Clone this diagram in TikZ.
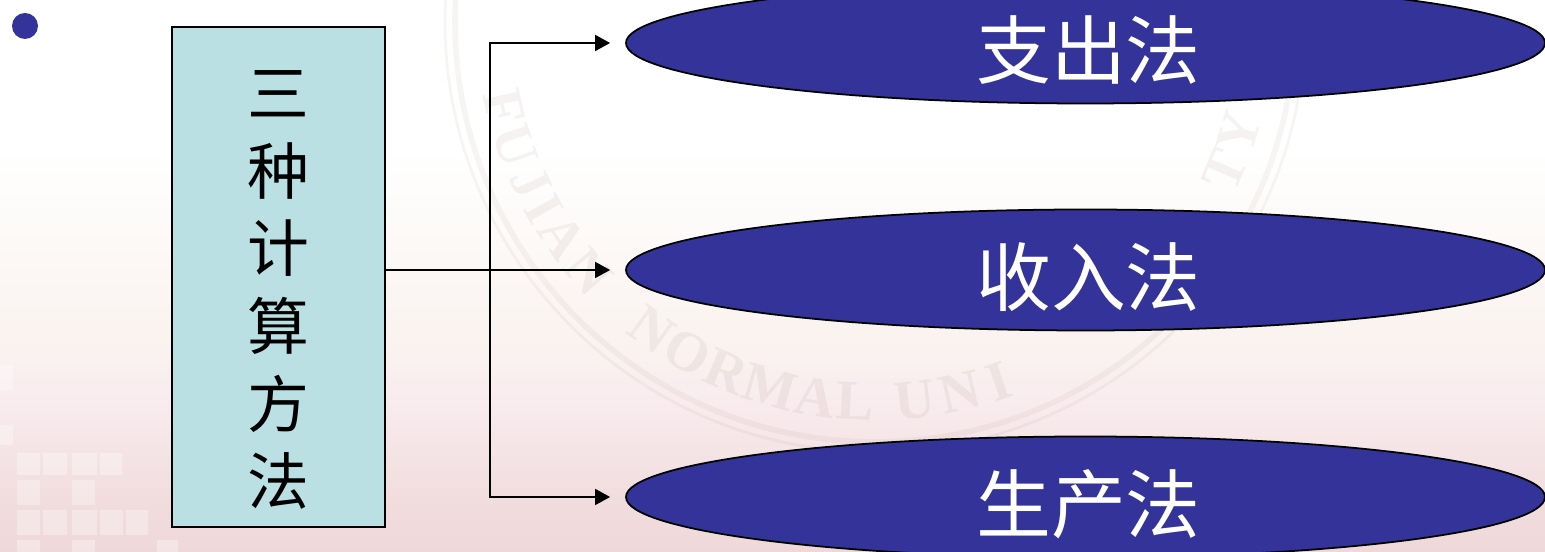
\documentclass[tikz,border=0pt]{standalone}
\usepackage{fontspec}
\setmainfont{Noto Sans CJK SC}
\newfontfamily\sealfont{Liberation Serif}
\usetikzlibrary{shapes.geometric,arrows.meta}
\definecolor{ovalblue}{HTML}{333399}
\definecolor{boxteal}{HTML}{BAE0E3}
\definecolor{sealgray}{HTML}{A08078}
\pgfdeclareverticalshading{pagefade}{100bp}{
  rgb(0bp)=(0.937,0.847,0.855); rgb(25bp)=(0.937,0.847,0.855); rgb(29.7bp)=(0.945,0.865,0.87);
  rgb(38.8bp)=(0.976,0.925,0.937); rgb(44.2bp)=(0.98,0.953,0.941);
  rgb(61.4bp)=(1,1,1); rgb(100bp)=(1,1,1)}
\tikzset{
  methodoval/.style={ellipse,draw=black,line width=0.5pt,fill=ovalblue,text=white,
    minimum width=9.19cm,minimum height=1.21cm,inner sep=0pt,text height=0.75cm,text depth=0.03cm,
    execute at begin node=\hspace{0.06cm},font=\fontsize{21.3pt}{24pt}\selectfont},
  flowline/.style={draw=black,line width=0.45pt,-{Triangle[length=0.15cm,width=0.16cm]},shorten >=0.15cm},
  tilesq/.style={fill=white,fill opacity=0.32,draw=none},
  sealring/.style={draw=sealgray,draw opacity=0.08},
  sealletter/.style={text=sealgray,text opacity=0.1,inner sep=0pt,font=\sealfont\bfseries\fontsize{16pt}{16pt}\selectfont}
}
\begin{document}
\begin{tikzpicture}
\useasboundingbox (0,0) rectangle (15.45,5.52);
\shade[shading=pagefade] (0,0) rectangle (15.45,5.52);

% tiles in the corner
\foreach \x/\y/\w/\h in {0/1.62/0.13/0.25, 0/1.07/0.13/0.2,
  0.17/0.77/0.23/0.22, 0.43/0.77/0.24/0.22, 0.72/0.77/0.25/0.22, 1/0.77/0.22/0.22,
  0.17/0.47/0.23/0.25, 0.72/0.47/0.23/0.25,
  0.17/0.17/0.23/0.25, 0.43/0.17/0.24/0.25, 0.72/0.17/0.25/0.25, 1/0.17/0.23/0.25, 1.26/0.17/0.22/0.25,
  0.17/0/0.23/0.12, 0.72/0/0.23/0.12, 1.57/0/0.21/0.12}
  \fill[tilesq] (\x,\y) rectangle ++(\w,\h);

% seal behind everything
\coordinate (sealmid) at (8.75,5.3);
\draw[sealring,line width=1.6pt] (sealmid) circle (4.2);
\draw[sealring,line width=0.8pt] (sealmid) circle (4.3);
\foreach \ch/\ang [count=\i] in {F/193,U/199,J/205,I/209.5,A/214.5,N/221,
  N/234,O/240.5,R/247,M/254,A/261,L/267,U/276,N/283,I/289,T/337,Y/343}
  \node[sealletter,rotate=\ang+90] (seal\i) at ([shift={(\ang:3.8)}]sealmid) {\ch};

\node[circle,fill=ovalblue,minimum size=0.26cm,inner sep=0pt] (dot) at (0.25,5.26) {};

\node[draw=black,line width=0.6pt,fill=boxteal,minimum width=2.13cm,minimum height=5cm,inner sep=0pt,
  align=center,font=\fontsize{17.6pt}{22.1pt}\selectfont] (methods) at (2.785,2.75)
  {\rule{0pt}{20.6pt}三\\种\\计\\算\\方\\法};

\node[methodoval] (spend) at (10.855,5.09) {支出法};
\node[methodoval] (income) at (10.855,2.82) {收入法};
\node[methodoval] (output) at (10.855,0.55) {生产法};

\coordinate (trunk) at (4.9,2.82);
\draw[flowline] (methods.east |- income.west) -- (income.west);
\draw[flowline] (trunk) |- (spend.west);
\draw[flowline] (trunk) |- (output.west);
\end{tikzpicture}
\end{document}
